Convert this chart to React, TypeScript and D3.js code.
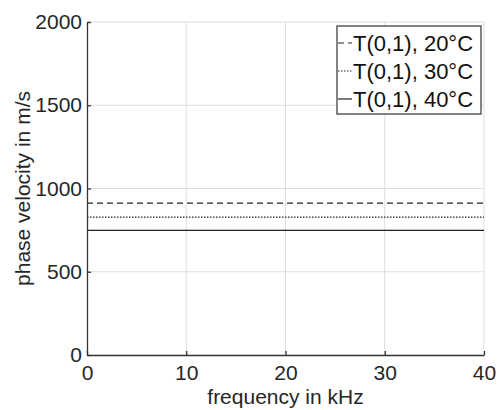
import React, { useEffect, useRef } from "react";
import * as d3 from "d3";

const series = ["T(0,1), 20°C", "T(0,1), 30°C", "T(0,1), 40°C"];
const velocities = [912, 828, 748];
const frequencies = [0, 40];
const dashes = ["6,4", "1.5,1.5", null];
const xTicks = [0, 10, 20, 30, 40];
const yTicks = [0, 500, 1000, 1500, 2000];

export default function App() {
  const svgRef = useRef<SVGSVGElement>(null);

  useEffect(() => {
    const width = 497;
    const height = 410;
    const margin = { left: 87, right: 13, top: 22, bottom: 55 };
    const font = "'Liberation Sans', Arial, sans-serif";

    const svg = d3.select(svgRef.current).attr("width", width).attr("height", height);
    svg.selectAll("*").remove();

    const x = d3.scaleLinear().domain([0, 40]).range([margin.left, width - margin.right]);
    const y = d3.scaleLinear().domain([0, 2000]).range([height - margin.bottom, margin.top]);

    // grid
    const grid = svg.append("g").attr("stroke", "#dedede").attr("stroke-width", 1);
    xTicks.slice(1).forEach((t) => {
      grid.append("line").attr("x1", x(t)).attr("x2", x(t)).attr("y1", y(0)).attr("y2", y(2000));
    });
    yTicks.slice(1).forEach((t) => {
      grid.append("line").attr("x1", x(0)).attr("x2", x(40)).attr("y1", y(t)).attr("y2", y(t));
    });

    // data lines
    velocities.forEach((v, i) => {
      svg
        .append("path")
        .attr("d", d3.line<number>().x((d) => x(d)).y(() => y(v))(frequencies))
        .attr("fill", "none")
        .attr("stroke", "#222")
        .attr("stroke-width", 1.2)
        .attr("stroke-dasharray", dashes[i]);
    });

    // axes
    const xAxis = svg
      .append("g")
      .attr("transform", `translate(0,${y(0)})`)
      .call(d3.axisBottom(x).tickValues(xTicks).tickFormat(d3.format("d")).tickSize(-4).tickPadding(10).tickSizeOuter(0));
    const yAxis = svg
      .append("g")
      .attr("transform", `translate(${x(0)},0)`)
      .call(d3.axisLeft(y).tickValues(yTicks).tickFormat(d3.format("d")).tickSize(-4).tickPadding(5).tickSizeOuter(0));
    [xAxis, yAxis].forEach((a) => {
      a.select(".domain").attr("stroke", "#333").attr("stroke-width", 1.3);
      a.selectAll(".tick line").attr("stroke", "#333").attr("stroke-width", 1.3);
      a.selectAll(".tick text")
        .attr("fill", "#262626")
        .style("font-family", font)
        .style("font-size", "21px");
    });

    svg
      .append("text")
      .attr("x", x(20))
      .attr("y", 404)
      .attr("text-anchor", "middle")
      .attr("fill", "#262626")
      .style("font-family", font)
      .style("font-size", "21px")
      .text("frequency in kHz");
    svg
      .append("text")
      .attr("transform", `translate(30,${y(1000)}) rotate(-90)`)
      .attr("text-anchor", "middle")
      .attr("fill", "#262626")
      .style("font-family", font)
      .style("font-size", "21px")
      .text("phase velocity in m/s");

    // legend
    const lg = svg.append("g").attr("transform", "translate(337,26)");
    lg.append("rect")
      .attr("width", 144)
      .attr("height", 88)
      .attr("fill", "white")
      .attr("stroke", "#333")
      .attr("stroke-width", 1.2);
    series.forEach((s, i) => {
      const cy = 17 + i * 28;
      lg.append("line")
        .attr("x1", 1)
        .attr("x2", 15)
        .attr("y1", cy)
        .attr("y2", cy)
        .attr("stroke", "#222")
        .attr("stroke-width", 1.2)
        .attr("stroke-dasharray", dashes[i]);
      lg.append("text")
        .attr("x", 16)
        .attr("y", cy + 8)
        .attr("fill", "#111")
        .style("font-family", font)
        .style("font-size", "22px")
        .text(s);
    });
  }, []);

  return (
    <div style={{ position: "absolute", left: 0, top: 0 }}>
      <svg ref={svgRef}></svg>
    </div>
  );
}
